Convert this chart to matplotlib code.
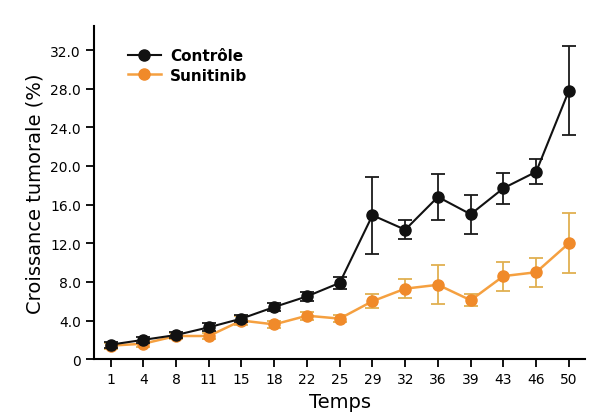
import matplotlib
matplotlib.use("Agg")
import matplotlib.pyplot as plt
from matplotlib.lines import Line2D
import numpy as np

days = ["1", "4", "8", "11", "15", "18", "22", "25", "29", "32", "36", "39", "43", "46", "50"]
controle = [1.5, 2.0, 2.5, 3.3, 4.2, 5.4, 6.5, 7.9, 14.9, 13.4, 16.8, 15.0, 17.7, 19.4, 27.8]
controle_err = [0.3, 0.3, 0.3, 0.4, 0.4, 0.4, 0.5, 0.6, 4.0, 1.0, 2.4, 2.0, 1.6, 1.3, 4.6]
sunitinib = [1.4, 1.6, 2.4, 2.4, 4.0, 3.6, 4.5, 4.2, 6.0, 7.3, 7.7, 6.1, 8.6, 9.0, 12.0]
sunitinib_err = [0.3, 0.3, 0.3, 0.3, 0.5, 0.4, 0.4, 0.4, 0.7, 1.0, 2.0, 0.6, 1.5, 1.5, 3.1]
yticks = [0, 4, 8, 12, 16, 20, 24, 28, 32]
ytick_labels = ["0", "4.0", "8.0", "12.0", "16.0", "20.0", "24.0", "28.0", "32.0"]

fig = plt.figure(figsize=(5.96, 4.14), dpi=100)
ax = fig.add_axes([0.158, 0.13, 0.824, 0.805])
x = np.arange(len(days))

ax.errorbar(x, sunitinib, yerr=sunitinib_err, color="#F5A040", ecolor="#E0B050",
            marker="o", markersize=8, markerfacecolor="#F08A2A", markeredgecolor="#F08A2A",
            lw=1.8, elinewidth=1.3, capsize=5, capthick=1.3, zorder=2)
ax.errorbar(x, controle, yerr=controle_err, color="#111111", ecolor="#1a1a1a",
            marker="o", markersize=8, lw=1.5, elinewidth=1.3, capsize=5, capthick=1.3,
            zorder=3)

ax.set_xlim(-0.5, 14.5)
ax.set_ylim(0, 34.5)
ax.set_xticks(x)
ax.set_xticklabels(days, fontsize=10)
ax.set_yticks(yticks)
ax.set_yticklabels(ytick_labels, fontsize=10)
ax.spines["top"].set_visible(False)
ax.spines["right"].set_visible(False)
ax.spines["left"].set_linewidth(1.5)
ax.spines["bottom"].set_linewidth(1.5)
ax.tick_params(direction="out", length=6, width=1.3)
ax.set_xlabel("Temps", fontsize=14)
ax.set_ylabel("Croissance tumorale (%)", fontsize=14)

handles = [
    Line2D([], [], color="#111111", lw=1.5, marker="o", markersize=8),
    Line2D([], [], color="#F5A040", lw=1.8, marker="o", markersize=8,
           markerfacecolor="#F08A2A", markeredgecolor="#F08A2A"),
]
ax.legend(handles, ["Contrôle", "Sunitinib"], loc="upper left", bbox_to_anchor=(0.04, 0.975),
          frameon=False, prop={"size": 11, "weight": "bold"}, handlelength=2.2,
          labelspacing=0.3, handletextpad=0.6)

fig.savefig("out.png", dpi=100)
